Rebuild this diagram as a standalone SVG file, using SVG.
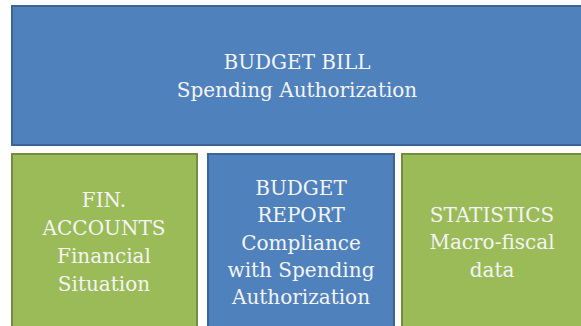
<svg xmlns="http://www.w3.org/2000/svg" width="581" height="326" viewBox="0 0 581 326">
<style>
.blue{fill:#4F81BD;stroke:#3B6597;stroke-width:2}
.green{fill:#9BBB59;stroke:#748C42;stroke-width:2}
text{font-family:"DejaVu Serif","Liberation Serif",serif;font-size:20px;fill:#F4F4F4;text-anchor:middle}
</style>
<rect width="581" height="326" fill="#FFFFFF"/>
<g id="budget-bill">
<rect class="blue" x="12" y="6" width="574" height="139"/>
<text x="297" y="69">BUDGET BILL</text>
<text x="297" y="97">Spending Authorization</text>
</g>
<g id="fin-accounts">
<rect class="green" x="12" y="154" width="185" height="180"/>
<text x="104" y="207">FIN.</text>
<text x="104" y="235">ACCOUNTS</text>
<text x="104" y="263">Financial</text>
<text x="104" y="291">Situation</text>
</g>
<g id="budget-report">
<rect class="blue" x="208" y="154" width="186" height="180"/>
<text x="301" y="195">BUDGET</text>
<text x="301" y="222">REPORT</text>
<text x="301" y="250">Compliance</text>
<text x="301" y="277">with Spending</text>
<text x="301" y="304">Authorization</text>
</g>
<g id="statistics">
<rect class="green" x="402" y="154" width="184" height="180"/>
<text x="492" y="222">STATISTICS</text>
<text x="492" y="249">Macro-fiscal</text>
<text x="492" y="277">data</text>
</g>
<g id="connectors"/>
</svg>
